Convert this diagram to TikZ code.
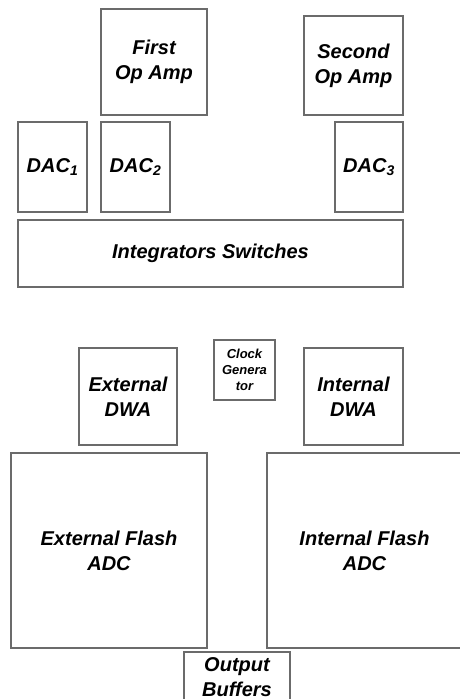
\documentclass[tikz,border=0pt]{standalone}
\usepackage{fontspec}
\setmainfont{Liberation Sans}
\usetikzlibrary{positioning}
\tikzset{
  block/.style={rectangle, draw=black!58, line width=1.6pt, align=center, inner sep=0pt,
    font=\fontsize{20}{25}\selectfont\bfseries\itshape},
  small/.style={font=\fontsize{13}{16}\selectfont\bfseries\itshape}
  }

\begin{document}
\begin{tikzpicture}[x=1pt, y=-1pt]
	% Frame
	\useasboundingbox (0,0) rectangle (459,699);

	% Top half
	\node[block, minimum width=106, minimum height=106] (opamp1) at (154,62) {First\\Op Amp};
	\node[block, minimum width=99, minimum height=99] (opamp2) at (353.5,65.5) {Second\\Op Amp};
	\node[block, minimum width=69, minimum height=90] (dac1) at (52.5,167) {DAC\textsubscript{1}};
	\node[block, minimum width=69, minimum height=90] (dac2) at (135.5,167) {DAC\textsubscript{2}};
	\node[block, minimum width=68, minimum height=90] (dac3) at (369,167) {DAC\textsubscript{3}};
	\node[block, minimum width=385, minimum height=67] (switches) at (210.5,253.5) {Integrators Switches};

	% Bottom half
	\node[block, minimum width=98, minimum height=97] (extdwa) at (128,396.5) {External\\DWA};
	\node[block, small, minimum width=61, minimum height=60] (clock) at (244.5,370) {Clock\\Genera\\tor};
	\node[block, minimum width=99, minimum height=97] (intdwa) at (353.5,396.5) {Internal\\DWA};
	\node[block, minimum width=196, minimum height=195] (extadc) at (109,550.5) {External Flash\\ADC};
	\node[block, minimum width=195, minimum height=195] (intadc) at (364.5,550.5) {Internal Flash\\ADC};
	\node[block, minimum width=106, minimum height=50] (outbuf) at (237,677) {Output\\Buffers};
\end{tikzpicture}
\end{document}
